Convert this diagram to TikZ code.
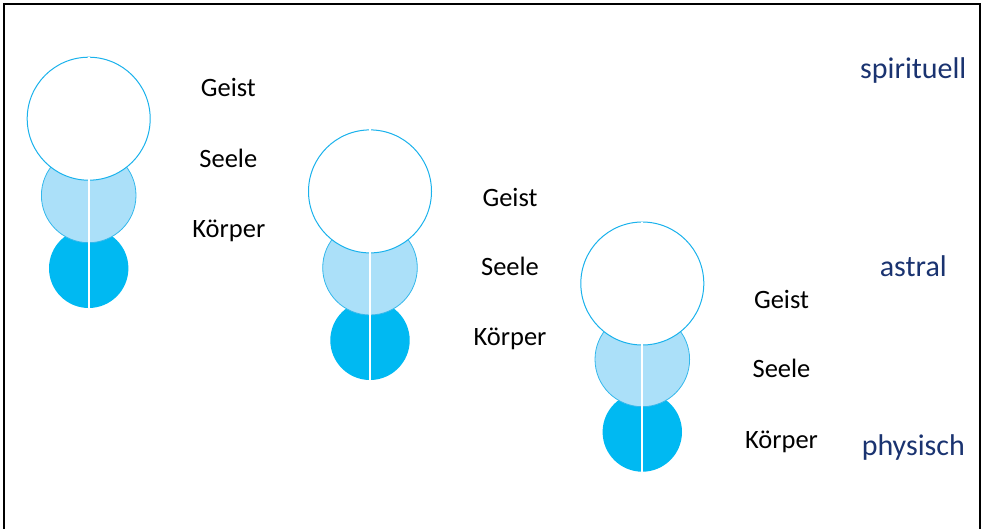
\documentclass[tikz,border=0pt]{standalone}
\usepackage{fontspec}
\setmainfont{Carlito}
\definecolor{ringblue}{HTML}{1AB2EC}
\definecolor{soulfill}{HTML}{ABE0F9}
\definecolor{soulline}{HTML}{33B8EC}
\definecolor{bodyfill}{HTML}{00B9F2}
\definecolor{navy}{HTML}{1A3370}
\begin{document}
\begin{tikzpicture}[x=1pt,y=-1pt,
  spirit/.style={circle,draw=ringblue,fill=white,line width=1pt,inner sep=0pt,minimum size=123pt},
  soul/.style={circle,draw=soulline,fill=soulfill,line width=0.8pt,inner sep=0pt,minimum size=94.6pt},
  body/.style={circle,fill=bodyfill,inner sep=0pt,minimum size=79.4pt},
  axis/.style={draw=white,line width=2pt},
  lbl/.style={anchor=base,inner sep=0pt,font=\fontsize{26.5}{30}\selectfont,text=black},
  level/.style={anchor=base,inner sep=0pt,font=\fontsize{30}{34}\selectfont,text=navy},
  frame/.style={draw=black,line width=2.7pt}]
\useasboundingbox (0,0) rectangle (985,528);
\draw[frame] (4,530) -- (4,4) -- (980,4) -- (980,530);
% column 1
\node[body] (b1) at (88.7,268.3) {};
\node[soul] (s1) at (88.7,195.4) {};
\node[spirit] (g1) at (88.7,118.7) {};
\draw[axis] (g1.north) -- (b1.south);
% column 2
\node[body] (b2) at (370,340.3) {};
\node[soul] (s2) at (370,267.7) {};
\node[spirit] (g2) at (370,191.4) {};
\draw[axis] (g2.north) -- (b2.south);
% column 3
\node[body] (b3) at (642.3,432) {};
\node[soul] (s3) at (642.3,359.4) {};
\node[spirit] (g3) at (642.3,283.5) {};
\draw[axis] (g3.north) -- (b3.south);
% labels
\node[lbl] (t1g) at (228.3,96.7) {Geist};
\node[lbl] (t1s) at (228.3,167.3) {Seele};
\node[lbl] (t1k) at (228.8,237.3) {Körper};
\node[lbl] (t2g) at (510,206) {Geist};
\node[lbl] (t2s) at (510,275) {Seele};
\node[lbl] (t2k) at (510,345) {Körper};
\node[lbl] (t3g) at (781.5,308.3) {Geist};
\node[lbl] (t3s) at (781.5,377.7) {Seele};
\node[lbl] (t3k) at (781.5,448.3) {Körper};
\node[level] (lsp) at (913.3,78.3) {spirituell};
\node[level] (las) at (913.3,276.7) {astral};
\node[level] (lph) at (913.3,455) {physisch};
\end{tikzpicture}
\end{document}
